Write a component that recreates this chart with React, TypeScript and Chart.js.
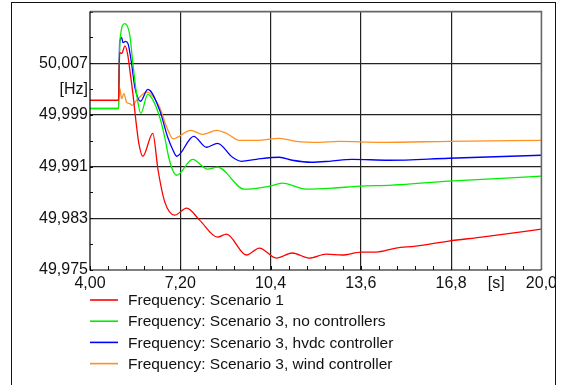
import { useEffect, useRef } from 'react';
import { Chart, registerables } from 'chart.js';

Chart.register(...registerables);

const FONT = "'Liberation Sans', Arial, Helvetica, sans-serif";

// Axis ticks (the unit labels sit in the slot of one tick on each axis)
const xTickValues = [4.0, 7.2, 10.4, 13.6, 16.8, 18.4, 20.0];
const xUnitTick = 18.4;
const yTickValues = [49.975, 49.983, 49.991, 49.999, 50.003, 50.007, 50.015];
const yUnitTick = 50.003;
const xMinorStep = 0.64;
const yMinorStep = 0.004;

// Series labels and colours
const seriesLabels = [
  'Frequency: Scenario 1',
  'Frequency: Scenario 3, no controllers',
  'Frequency: Scenario 3, hvdc controller',
  'Frequency: Scenario 3, wind controller',
];
const seriesColors = ['#ff0000', '#00ee00', '#0000ff', '#ff9120'];

// Time [s] and frequency [Hz] samples of each series
const timeRed = [4.0, 5.01, 5.05, 5.12, 5.24, 5.342, 5.413, 5.519, 5.625, 5.731, 5.872, 6.225, 6.413, 6.649, 7.002, 7.426, 7.885, 8.521, 8.839, 9.545, 10.004, 10.605, 11.17, 11.77, 12.371, 12.936, 13.608, 14.137, 14.843, 15.55, 16.716, 17.881, 20.0];
const freqRed = [50.00125, 50.00125, 50.0087, 50.0085, 50.0097, 50.0082, 50.00589, 50.00234, 49.99817, 49.99461, 49.99261, 49.99616, 49.99044, 49.98555, 49.98349, 49.98458, 49.98272, 49.9801, 49.98056, 49.97732, 49.9784, 49.97685, 49.97763, 49.97685, 49.97747, 49.97732, 49.97778, 49.97778, 49.9784, 49.97871, 49.97948, 49.9801, 49.98133];

const timeGreen = [4.0, 5.01, 5.06, 5.236, 5.413, 5.519, 5.649, 5.801, 6.049, 6.237, 6.472, 6.649, 6.79, 6.932, 7.073, 7.638, 8.168, 8.521, 9.47, 10.358, 10.817, 11.665, 12.583, 13.536, 14.702, 16.716, 20.0];
const freqGreen = [50.0, 50.0, 50.0105, 50.01315, 50.01129, 50.00697, 50.00234, 49.99925, 50.00218, 50.00125, 49.99863, 49.99554, 49.99245, 49.99044, 49.98967, 49.99214, 49.9906, 49.99091, 49.98751, 49.98797, 49.98844, 49.98751, 49.98766, 49.98797, 49.98813, 49.98875, 49.98952];

const timeBlue = [4.0, 5.01, 5.05, 5.12, 5.17, 5.26, 5.35, 5.473, 5.589, 5.79, 6.049, 6.472, 6.755, 6.943, 7.073, 7.673, 8.132, 8.521, 9.051, 9.369, 9.898, 10.711, 11.17, 11.841, 12.477, 13.289, 14.596, 16.716, 20.0];
const freqBlue = [50.00125, 50.00125, 50.01, 50.011, 50.0102, 50.0104, 50.01, 50.00697, 50.00331, 50.00112, 50.00295, 49.99971, 49.99554, 49.99353, 49.99261, 49.99569, 49.994, 49.99461, 49.99245, 49.99183, 49.99214, 49.99245, 49.99199, 49.99168, 49.99183, 49.99214, 49.99199, 49.9923, 49.99276];

const timeOrange = [4.0, 5.01, 5.06, 5.12, 5.2, 5.296, 5.413, 5.5, 5.649, 5.861, 6.003, 6.12, 6.472, 6.72, 6.95, 7.567, 7.991, 8.486, 8.839, 9.298, 9.898, 10.711, 11.311, 12.124, 12.83, 14.349, 16.716, 20.0];
const freqOrange = [50.0, 50.0, 50.00306, 50.00152, 50.00229, 50.00099, 50.00075, 50.00048, 50.00125, 50.00218, 50.00254, 50.00234, 50.00017, 49.99708, 49.9953, 49.99662, 49.996, 49.99662, 49.99616, 49.99508, 49.99508, 49.99539, 49.99492, 49.99477, 49.99492, 49.99477, 49.99492, 49.99508];

const seriesTimes = [timeRed, timeGreen, timeBlue, timeOrange];
const seriesFreqs = [freqRed, freqGreen, freqBlue, freqOrange];

const near = (a: number, b: number) => Math.abs(a - b) < 1e-6;

// Plot frame, inner minor ticks and the stacked legend
const decorations = {
  id: 'decorations',
  afterDraw(chart: any) {
    const { ctx, chartArea: a, scales } = chart;
    const xs = scales.x;
    const ys = scales.y;
    ctx.save();

    // minor ticks pointing into the plot
    ctx.strokeStyle = '#111';
    ctx.lineWidth = 1;
    ctx.beginPath();
    for (let i = 0; i <= 25; i++) {
      const px = Math.round(xs.getPixelForValue(4 + i * xMinorStep)) + 0.5;
      ctx.moveTo(px, a.bottom);
      ctx.lineTo(px, a.bottom - 4);
    }
    for (let i = 0; i <= 10; i++) {
      const py = Math.round(ys.getPixelForValue(49.975 + i * yMinorStep)) + 0.5;
      ctx.moveTo(a.left, py);
      ctx.lineTo(a.left + 3, py);
    }
    ctx.stroke();

    // plot border
    ctx.strokeStyle = '#666';
    ctx.lineWidth = 1.6;
    ctx.beginPath();
    ctx.moveTo(a.left, a.top);
    ctx.lineTo(a.right, a.top);
    ctx.lineTo(a.right, a.bottom);
    ctx.stroke();
    ctx.strokeStyle = '#000';
    ctx.lineWidth = 1.2;
    ctx.beginPath();
    ctx.moveTo(a.left, a.top);
    ctx.lineTo(a.left, a.bottom);
    ctx.lineTo(a.right, a.bottom);
    ctx.stroke();

    // legend, one entry per row
    ctx.font = `15.5px ${FONT}`;
    ctx.textBaseline = 'middle';
    ctx.textAlign = 'left';
    chart.data.datasets.forEach((ds: any, i: number) => {
      const y = 300 + i * 21.2;
      ctx.strokeStyle = ds.borderColor;
      ctx.lineWidth = 1.6;
      ctx.beginPath();
      ctx.moveTo(90, y);
      ctx.lineTo(118, y);
      ctx.stroke();
      ctx.fillStyle = '#111';
      ctx.fillText(ds.label, 128, y + 1);
    });
    ctx.restore();
  },
};

export default function App() {
  const canvasRef = useRef<HTMLCanvasElement | null>(null);

  useEffect(() => {
    const canvas = canvasRef.current;
    if (!canvas) return;
    const chart = new Chart(canvas, {
      type: 'line',
      data: {
        datasets: seriesLabels.map((label, i) => ({
          label,
          data: seriesTimes[i].map((t, k) => ({ x: t, y: seriesFreqs[i][k] })),
          borderColor: seriesColors[i],
          borderWidth: 1.3,
          pointRadius: 0,
          cubicInterpolationMode: 'monotone' as const,
          fill: false,
        })),
      },
      options: {
        responsive: false,
        devicePixelRatio: 1,
        animation: false,
        layout: { padding: { top: 11, right: 18, left: 0, bottom: 0 } },
        plugins: { legend: { display: false }, tooltip: { enabled: false } },
        scales: {
          x: {
            type: 'linear',
            min: 4,
            max: 20,
            afterBuildTicks: (s: any) => {
              s.ticks = xTickValues.map((v) => ({ value: v }));
            },
            afterFit: (s: any) => {
              s.height = 115;
            },
            border: { display: false },
            grid: {
              drawTicks: false,
              lineWidth: 1.2,
              color: (c: any) => {
                const v = c.tick?.value;
                if (v === undefined || near(v, 4) || near(v, 20) || near(v, xUnitTick)) return 'rgba(0,0,0,0)';
                return '#222';
              },
            },
            ticks: {
              autoSkip: false,
              maxRotation: 0,
              padding: 4,
              color: '#111',
              font: { family: FONT, size: 16 },
              callback: (v: any) => {
                const n = Number(v);
                if (near(n, xUnitTick)) return '[s]';
                return n.toPrecision(3).replace('.', ',');
              },
            },
          },
          y: {
            type: 'linear',
            min: 49.975,
            max: 50.015,
            afterBuildTicks: (s: any) => {
              s.ticks = yTickValues.map((v) => ({ value: v }));
            },
            afterFit: (s: any) => {
              s.width = 90;
            },
            border: { display: false },
            grid: {
              drawTicks: false,
              lineWidth: 1.2,
              color: (c: any) => {
                const v = c.tick?.value;
                if (v === undefined || near(v, 49.975) || near(v, 50.015) || near(v, yUnitTick)) return 'rgba(0,0,0,0)';
                return '#222';
              },
            },
            ticks: {
              autoSkip: false,
              padding: 2,
              color: '#111',
              font: { family: FONT, size: 16 },
              callback: (v: any) => {
                const n = Number(v);
                if (near(n, yUnitTick)) return '[Hz]';
                if (near(n, 50.015)) return '';
                return n.toFixed(3).replace('.', ',');
              },
            },
          },
        },
      },
      plugins: [decorations],
    });
    return () => chart.destroy();
  }, []);

  return (
    <div style={{ position: 'fixed', left: 0, top: 0, width: 561, height: 385, background: '#fff', overflow: 'hidden' }}>
      <canvas ref={canvasRef} width={561} height={385} style={{ position: 'absolute', left: 0, top: 0, width: 561, height: 385 }} />
      <div style={{ position: 'absolute', left: 556, top: 0, width: 5, height: 385, background: '#fff' }} />
      <div
        style={{
          position: 'absolute',
          left: 11,
          top: 2,
          width: 543,
          height: 400,
          borderTop: '1px solid #111',
          borderLeft: '1px solid #111',
          borderRight: '1px solid #111',
        }}
      />
    </div>
  );
}
